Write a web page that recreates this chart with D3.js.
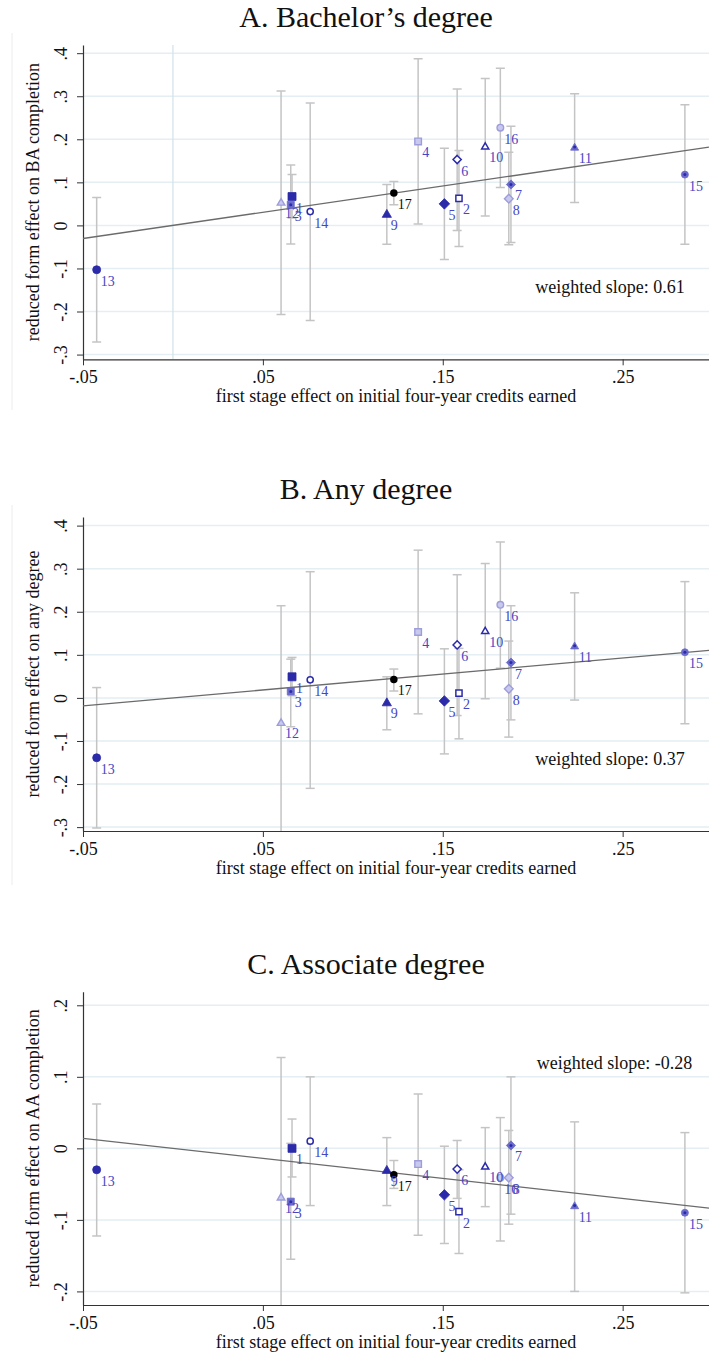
<!DOCTYPE html>
<html>
<head>
<meta charset="utf-8">
<script src="https://cdn.jsdelivr.net/npm/d3@7"></script>
<style>
  body { margin: 0; background: #fff; }
  svg text { font-family: "Liberation Serif", "Times New Roman", serif; }
</style>
</head>
<body>
<svg id="chart" width="709" height="1355"></svg>
<script>
// Site identifiers 1..17 (17 = pooled estimate)
const siteIds = [1, 2, 3, 4, 5, 6, 7, 8, 9, 10, 11, 12, 13, 14, 15, 16, 17];

// First stage effect on initial four-year credits earned (shared x across panels)
const firstStage = [0.0662, 0.1590, 0.0655, 0.1363, 0.1509, 0.1580, 0.1879, 0.1867, 0.1189,
                    0.1736, 0.2233, 0.0601, -0.0424, 0.0763, 0.2846, 0.1820, 0.1228];

// Panel A: reduced form effect on BA completion
const baEst = [0.067, 0.063, 0.048, 0.195, 0.050, 0.153, 0.095, 0.062, 0.027,
               0.184, 0.182, 0.054, -0.103, 0.032, 0.118, 0.227, 0.075];
const baLo  = [0.017, -0.049, -0.043, 0.003, -0.079, -0.012, -0.040, -0.045, -0.044,
               0.022, 0.053, -0.207, -0.271, -0.221, -0.044, 0.088, 0.048];
const baHi  = [0.118, 0.174, 0.140, 0.387, 0.179, 0.317, 0.230, 0.170, 0.095,
               0.341, 0.306, 0.312, 0.065, 0.284, 0.280, 0.365, 0.102];

// Panel B: reduced form effect on any degree
const anyEst = [0.049, 0.011, 0.015, 0.153, -0.007, 0.123, 0.082, 0.021, -0.010,
                0.156, 0.121, -0.057, -0.139, 0.042, 0.106, 0.216, 0.043];
const anyLo  = [0.005, -0.095, -0.067, -0.037, -0.130, -0.041, -0.051, -0.091, -0.074,
                -0.002, -0.005, -0.328, -0.302, -0.210, -0.060, 0.069, 0.016];
const anyHi  = [0.094, 0.115, 0.090, 0.343, 0.114, 0.286, 0.214, 0.132, 0.049,
                0.312, 0.244, 0.214, 0.024, 0.293, 0.270, 0.362, 0.067];

// Panel C: reduced form effect on AA completion
const aaEst = [0.000, -0.0885, -0.0745, -0.022, -0.065, -0.029, 0.004, -0.041, -0.030,
               -0.025, -0.080, -0.068, -0.030, 0.010, -0.090, -0.041, -0.037];
const aaLo  = [-0.040, -0.147, -0.155, -0.1215, -0.133, -0.070, -0.092, -0.106, -0.080,
               -0.0815, -0.200, -0.262, -0.1225, -0.080, -0.202, -0.1295, -0.056];
const aaHi  = [0.041, -0.030, 0.007, 0.076, 0.003, 0.011, 0.100, 0.025, 0.015,
               0.029, 0.037, 0.127, 0.062, 0.100, 0.022, 0.043, -0.017];

// Weighted slopes (fit through the origin)
const slopes = [0.61, 0.37, -0.28];

// Marker symbols per site
const markerShape = ["square", "square", "square", "square",
                     "diamond", "diamond", "diamond", "diamond",
                     "triangle", "triangle", "triangle", "triangle",
                     "circle", "circle", "circle", "circle", "circle"];
const markerStyle = ["solid", "hollow", "dot", "light",
                     "solid", "hollow", "dot", "light",
                     "solid", "hollow", "dot", "light",
                     "solid", "hollow", "dot", "light", "pooled"];

// Axis ticks
const xTickValues = [-0.05, 0.05, 0.15, 0.25];
const xTickLabels = ["-.05", ".05", ".15", ".25"];
const yTickValuesWide = [-0.3, -0.2, -0.1, 0, 0.1, 0.2, 0.3, 0.4];
const yTickLabelsWide = ["-.3", "-.2", "-.1", "0", ".1", ".2", ".3", ".4"];
const yTickValuesNarrow = [-0.2, -0.1, 0, 0.1, 0.2];
const yTickLabelsNarrow = ["-.2", "-.1", "0", ".1", ".2"];

const panelTitles = ["A. Bachelor\u2019s degree", "B. Any degree", "C. Associate degree"];
const yTitles = ["reduced form effect on BA completion",
                 "reduced form effect on any degree",
                 "reduced form effect on AA completion"];
const xTitle = "first stage effect on initial four-year credits earned";

// ---- styling ----
const C_DARK = "#2b2ba9", C_MED = "#6a6acd", C_LIGHT = "#9d9ddb", C_LIGHT_FILL = "#c9c9ee";
const C_LABEL = "#4646c2", C_BAR = "#c4c4c4", C_GRID = "#e5eef3", C_FIT = "#6b6b6b";

const svg = d3.select("#chart");
const X_LEFT = 83, X_RIGHT = 709;
const x = d3.scaleLinear().domain([-0.05, 0.298]).range([X_LEFT, X_RIGHT]);

function shapePath(shape, s) {
  const h = s / 2;
  if (shape === "square") return `M${-h},${-h}H${h}V${h}H${-h}Z`;
  if (shape === "diamond") { const r = s * 0.66; return `M0,${-r}L${r},0L0,${r}L${-r},0Z`; }
  if (shape === "triangle") {
    const side = s * 1.15, ht = side * 0.866;
    return `M0,${-ht * 0.55}L${side / 2},${ht * 0.45}L${-side / 2},${ht * 0.45}Z`;
  }
  return d3.arc()({innerRadius: 0, outerRadius: h, startAngle: 0, endAngle: 2 * Math.PI});
}

const panels = [
  { est: baEst, lo: baLo, hi: baHi, top: 45, bottom: 359.3, domain: [-0.311, 0.419],
    yt: yTickValuesWide, ytl: yTickLabelsWide, zeroLine: true, border: [33, 410],
    note: "weighted slope: 0.61", noteAt: [0.2014, -0.156] },
  { est: anyEst, lo: anyLo, hi: anyHi, top: 517, bottom: 831, domain: [-0.309, 0.42],
    yt: yTickValuesWide, ytl: yTickLabelsWide, zeroLine: false, border: [505, 885],
    note: "weighted slope: 0.37", noteAt: [0.2014, -0.1555] },
  { est: aaEst, lo: aaLo, hi: aaHi, top: 991.7, bottom: 1305, domain: [-0.219, 0.219],
    yt: yTickValuesNarrow, ytl: yTickLabelsNarrow, zeroLine: false, border: null,
    note: "weighted slope: -0.28", noteAt: [0.2023, 0.1107] }
];

panels.forEach((p, pi) => {
  const y = d3.scaleLinear().domain(p.domain).range([p.bottom, p.top]);
  const g = svg.append("g");
  const clipId = "clip" + pi;
  svg.append("clipPath").attr("id", clipId).append("rect")
    .attr("x", X_LEFT).attr("y", p.top).attr("width", X_RIGHT - X_LEFT).attr("height", p.bottom - p.top);

  // faint outer region edge
  if (p.border) {
    g.append("line").attr("x1", 12).attr("x2", 12).attr("y1", p.border[0]).attr("y2", p.border[1])
      .attr("stroke", "#ececec").attr("stroke-width", 1);
  }

  // title
  g.append("text").attr("x", 366).attr("y", p.top - 18).attr("text-anchor", "middle")
    .attr("font-size", 30).attr("fill", "#111").text(panelTitles[pi]);

  // gridlines
  g.append("g").selectAll("line").data(p.yt).join("line")
    .attr("x1", X_LEFT).attr("x2", X_RIGHT)
    .attr("y1", d => y(d)).attr("y2", d => y(d))
    .attr("stroke", C_GRID).attr("stroke-width", 1.5);

  if (p.zeroLine) {
    g.append("line").attr("x1", x(0)).attr("x2", x(0)).attr("y1", p.top).attr("y2", p.bottom)
      .attr("stroke", "#d2e2ea").attr("stroke-width", 1.2);
  }

  // axes
  const xAxis = d3.axisBottom(x).tickValues(xTickValues)
    .tickFormat((d, i) => xTickLabels[i]).tickSize(6).tickSizeOuter(0);
  const gx = g.append("g").attr("transform", `translate(0,${p.bottom})`).call(xAxis);
  gx.select(".domain").attr("stroke", "#333").attr("stroke-width", 1.2);
  gx.selectAll(".tick line").attr("stroke", "#333");
  gx.selectAll(".tick text").attr("font-size", 18).attr("fill", "#111")
    .attr("y", 0).attr("dy", null).attr("transform", "translate(0,23.5)")
    .style("font-family", '"Liberation Serif", serif');

  const yAxis = d3.axisLeft(y).tickValues(p.yt)
    .tickFormat((d, i) => p.ytl[i]).tickSize(6).tickSizeOuter(0);
  const gy = g.append("g").attr("transform", `translate(${X_LEFT},0)`).call(yAxis);
  gy.select(".domain").attr("stroke", "#333").attr("stroke-width", 1.2);
  gy.selectAll(".tick line").attr("stroke", "#333");
  gy.selectAll(".tick text").attr("font-size", 18).attr("fill", "#111")
    .attr("x", null).attr("dy", null).attr("text-anchor", "middle")
    .attr("transform", "translate(-16,0) rotate(-90)")
    .style("font-family", '"Liberation Serif", serif');

  // axis titles
  g.append("text").attr("x", (X_LEFT + X_RIGHT) / 2).attr("y", p.bottom + 43)
    .attr("text-anchor", "middle").attr("font-size", 18).attr("fill", "#111").text(xTitle);
  g.append("text").attr("transform", `translate(39,${(p.top + p.bottom) / 2}) rotate(-90)`)
    .attr("text-anchor", "middle").attr("font-size", 18).attr("fill", "#111").text(yTitles[pi]);

  const rows = siteIds.map((id, i) => ({
    id, x: firstStage[i], est: p.est[i], lo: p.lo[i], hi: p.hi[i],
    shape: markerShape[i], style: markerStyle[i]
  }));

  // confidence intervals
  const bars = g.append("g").attr("clip-path", `url(#${clipId})`)
    .attr("stroke", C_BAR).attr("stroke-width", 1.5).attr("fill", "none");
  rows.forEach(r => {
    const cx = x(r.x);
    bars.append("line").attr("x1", cx).attr("x2", cx).attr("y1", y(r.lo)).attr("y2", y(r.hi));
    bars.append("line").attr("x1", cx - 4.5).attr("x2", cx + 4.5).attr("y1", y(r.lo)).attr("y2", y(r.lo));
    bars.append("line").attr("x1", cx - 4.5).attr("x2", cx + 4.5).attr("y1", y(r.hi)).attr("y2", y(r.hi));
  });

  // weighted fit through the origin
  const xd = x.domain();
  g.append("line").attr("clip-path", `url(#${clipId})`)
    .attr("x1", x(xd[0])).attr("y1", y(slopes[pi] * xd[0]))
    .attr("x2", x(xd[1])).attr("y2", y(slopes[pi] * xd[1]))
    .attr("stroke", C_FIT).attr("stroke-width", 1.3);

  // markers
  const marks = g.append("g");
  rows.forEach(r => {
    const t = `translate(${x(r.x)},${y(r.est)})`;
    const m = marks.append("g").attr("transform", t);
    if (r.style === "solid") {
      m.append("path").attr("d", shapePath(r.shape, 8)).attr("fill", C_DARK).attr("stroke", C_DARK).attr("stroke-width", 0.8);
    } else if (r.style === "hollow") {
      m.append("path").attr("d", shapePath(r.shape, 6.2)).attr("fill", "#fff").attr("stroke", C_DARK).attr("stroke-width", 1.5);
    } else if (r.style === "dot") {
      m.append("path").attr("d", shapePath(r.shape, 7)).attr("fill", C_MED).attr("stroke", C_MED).attr("stroke-width", 0.8);
      m.append("circle").attr("r", 1.5).attr("fill", C_DARK);
    } else if (r.style === "light") {
      m.append("path").attr("d", shapePath(r.shape, 6.6)).attr("fill", C_LIGHT_FILL).attr("stroke", C_LIGHT).attr("stroke-width", 1.4);
    } else {
      m.append("path").attr("d", shapePath("circle", 7.5)).attr("fill", "#000");
    }
  });

  // site labels at the 4 o'clock position
  g.append("g").selectAll("text").data(rows).join("text")
    .attr("x", d => x(d.x) + 4).attr("y", d => y(d.est) + 16)
    .attr("font-size", 14).attr("fill", d => d.style === "pooled" ? "#111" : C_LABEL)
    .text(d => d.id);

  // slope annotation
  g.append("text").attr("x", x(p.noteAt[0])).attr("y", y(p.noteAt[1]))
    .attr("font-size", 18).attr("fill", "#111").text(p.note);
});
</script>
</body>
</html>
